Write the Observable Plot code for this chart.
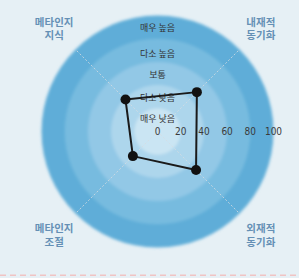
<!DOCTYPE html>
<html><head><meta charset="utf-8">
<script src="https://cdn.jsdelivr.net/npm/d3@7"></script>
<script src="https://cdn.jsdelivr.net/npm/@observablehq/plot@0.6"></script>
<style>
html,body{margin:0;padding:0;background:#e6f0f5;}
#chart svg{display:block;}
</style></head>
<body><div id="chart"></div>
<script>
// Data
const axes = ["메타인지\n지식", "내재적\n동기화", "외재적\n동기화", "메타인지\n조절"];
const axisAngles = [135, 45, -45, -135];
const values = [39, 48, 47, 30];
const ringLevels = [100, 80, 60, 40, 20];
const ringColors = ["#5eadd8", "#77bbdf", "#92c8e6", "#add6ec", "#cae5f3"];
const levelLabels = ["매우 높음", "다소 높음", "보통", "다소 낮음", "매우 낮음"];
const levelLabelPos = [89, 67, 49, 28.5, 11];
const ticks = [0, 20, 40, 60, 80, 100];

const rad = a => a * Math.PI / 180;
const pts = values.map((v, i) => ({name: axes[i], x: v * Math.cos(rad(axisAngles[i])), y: v * Math.sin(rad(axisAngles[i]))}));
const closed = [...pts, pts[0]];
const spokes = axisAngles.map(a => ({x2: 100 * Math.cos(rad(a)), y2: 100 * Math.sin(rad(a))}));
const labelR = 126;
const axisLabelData = axes.map((t, i) => ({t, x: labelR * Math.cos(rad(axisAngles[i])), y: labelR * Math.sin(rad(axisAngles[i]))}));
const rings = ringLevels.map((r, i) => ({r, c: ringColors[i]}));

const W = 299, H = 278, k = 1.16, cx = 157, cy = 131;
const chart = Plot.plot({
  width: W, height: H,
  margin: 0,
  style: {background: "#e6f0f5"},
  x: {domain: [-cx / k, (W - cx) / k], range: [0, W], axis: null},
  y: {domain: [-(H - cy) / k, cy / k], range: [H, 0], axis: null},
  r: {type: "linear", domain: [0, 100], range: [0, 100 * k]},
  marks: [
    Plot.ruleY([-124], {stroke: "#f0c4c4", strokeWidth: 1.5, strokeDasharray: "6,4"}),
    Plot.dot(rings, {x: () => 0, y: () => 0, r: "r", fill: "c", stroke: null}),
    Plot.link(spokes, {x1: 0, y1: 0, x2: "x2", y2: "y2", stroke: "#d6dce2", strokeWidth: 0.8, strokeDasharray: "2,2"}),
    Plot.text(levelLabels, {x: 0, y: (d, i) => levelLabelPos[i], text: d => d, fontSize: 9, fill: "#333", fontFamily: "Noto Sans CJK KR"}),
    Plot.text(ticks, {x: d => d, y: 0, text: d => String(d), fontSize: 10, fill: "#3a3a3a", fontFamily: "DejaVu Sans Condensed", dy: 0.5}),
    Plot.line(closed, {x: "x", y: "y", stroke: "#1a1a1a", strokeWidth: 2}),
    Plot.dot(pts, {x: "x", y: "y", r: 5, fill: "#111", stroke: null}),
    Plot.text(axisLabelData, {x: "x", y: "y", text: "t", fontSize: 10.5, fontWeight: "bold", fill: "#6590b5", lineHeight: 1.3, fontFamily: "Noto Sans CJK KR"})
  ]
});
// soften ring edges
const svg = d3.select(chart);
svg.insert("defs", ":first-child").append("filter").attr("id", "soft").append("feGaussianBlur").attr("stdDeviation", 1.5);
svg.selectAll('g[aria-label="dot"]').filter((d, i) => i === 0).attr("filter", "url(#soft)");
document.getElementById("chart").appendChild(chart);
</script></body></html>
